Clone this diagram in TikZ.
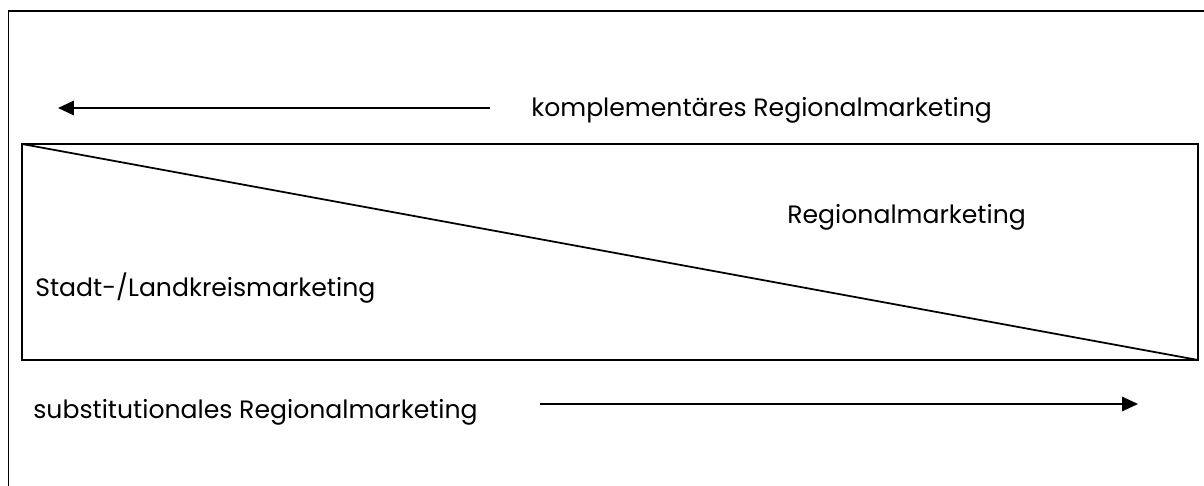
\documentclass[tikz,border=0pt]{standalone}
\usepackage{fontspec}
\setmainfont{Poppins}
\usetikzlibrary{arrows.meta}

\begin{document}
\begin{tikzpicture}[x=0.02cm,y=0.02cm,
  frame/.style={line width=1pt},
  pfeil/.style={>={Triangle[length=0.32cm,width=0.29cm]}, ->, line width=1pt},
  beschr/.style={font=\fontsize{14.3}{17}\selectfont, anchor=west, inner sep=0pt}]

\useasboundingbox (0,0) rectangle (1204,-486);

%\draw[help lines](0,0) grid[step=100] (1204,-486);

% outer frame (only left and top edges visible)
\draw[frame] (8.5,-486) -- (8.5,-11) -- (1204,-11);

% inner box with diagonal
\coordinate (tl) at (22,-144);
\coordinate (br) at (1198,-360);
\draw[frame] (tl) rectangle (br);
\draw[frame] (tl) -- (br);

\node[beschr] (komp) at (531,-110) {komplement\"ares Regionalmarketing};
\node[beschr] (reg) at (787,-217) {Regionalmarketing};
\node[beschr] (stadt) at (35,-288) {Stadt-/Landkreismarketing};
\node[beschr] (subst) at (33,-412) {substitutionales Regionalmarketing};

\coordinate (obenA) at (490,-108);
\coordinate (obenB) at (58,-108);
\coordinate (untenA) at (540,-404);
\coordinate (untenB) at (1138,-404);

\draw[pfeil] (obenA) -- (obenB);
\draw[pfeil] (untenA) -- (untenB);

\end{tikzpicture}
\end{document}
